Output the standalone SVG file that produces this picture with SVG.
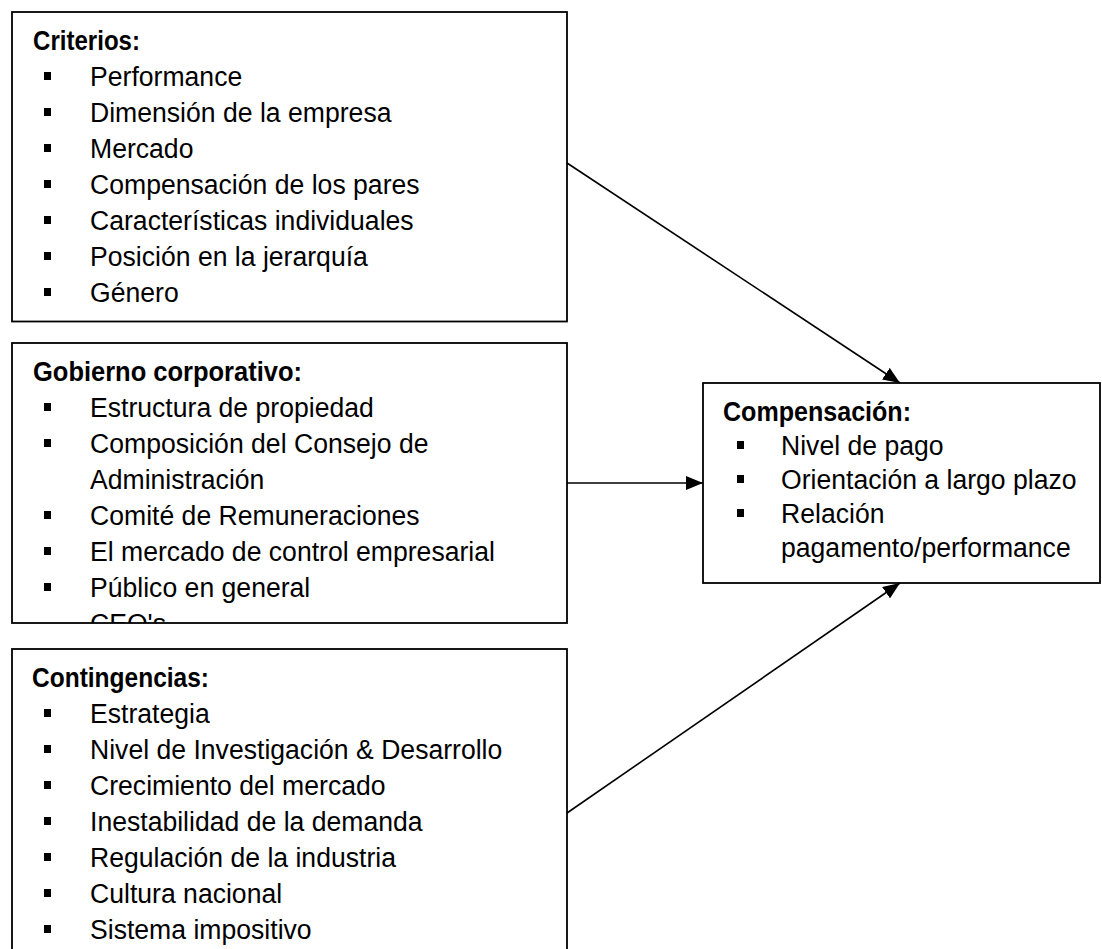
<svg xmlns="http://www.w3.org/2000/svg" width="1102" height="949" viewBox="0 0 1102 949">
<style>
.box{fill:#fff;stroke:#000;stroke-width:1.8}
.h{font-family:"Liberation Sans",Arial,sans-serif;font-weight:bold;font-size:28px;fill:#000}
.t{font-family:"Liberation Sans",Arial,sans-serif;font-size:28px;fill:#000}
.b{fill:#000}
.c{stroke:#000;stroke-width:1.6;fill:none}
</style>
<defs>
<marker id="arr" markerUnits="userSpaceOnUse" markerWidth="18" markerHeight="14" refX="17" refY="7" orient="auto">
<path d="M0,0 L17,7 L0,14 Z" fill="#000"/>
</marker>
<clipPath id="clip2"><rect x="12" y="343" width="555" height="280"/></clipPath>
</defs>
<rect width="1102" height="949" fill="#fff"/>

<g id="criterios">
<rect class="box" x="12" y="12" width="555" height="309.5"/>
<text class="h" x="33" y="50" textLength="107" lengthAdjust="spacingAndGlyphs">Criterios:</text>
<rect class="b" x="44" y="72" width="7" height="8"/><text class="t" transform="matrix(0.95 0 0 1 90 86)">Performance</text>
<rect class="b" x="44" y="108" width="7" height="8"/><text class="t" transform="matrix(0.95 0 0 1 90 122)">Dimensión de la empresa</text>
<rect class="b" x="44" y="144" width="7" height="8"/><text class="t" transform="matrix(0.95 0 0 1 90 158)">Mercado</text>
<rect class="b" x="44" y="180" width="7" height="8"/><text class="t" transform="matrix(0.95 0 0 1 90 194)">Compensación de los pares</text>
<rect class="b" x="44" y="216" width="7" height="8"/><text class="t" transform="matrix(0.95 0 0 1 90 230)">Características individuales</text>
<rect class="b" x="44" y="252" width="7" height="8"/><text class="t" transform="matrix(0.95 0 0 1 90 266)">Posición en la jerarquía</text>
<rect class="b" x="44" y="288" width="7" height="8"/><text class="t" transform="matrix(0.95 0 0 1 90 302)">Género</text>
</g>

<g id="gobierno">
<rect class="box" x="12" y="343" width="555" height="280"/>
<g clip-path="url(#clip2)">
<text class="h" x="33" y="381" textLength="269" lengthAdjust="spacingAndGlyphs">Gobierno corporativo:</text>
<rect class="b" x="44" y="403" width="7" height="8"/><text class="t" transform="matrix(0.95 0 0 1 90 417)">Estructura de propiedad</text>
<rect class="b" x="44" y="439" width="7" height="8"/><text class="t" transform="matrix(0.95 0 0 1 90 453)">Composición del Consejo de</text>
<text class="t" transform="matrix(0.95 0 0 1 90 489)">Administración</text>
<rect class="b" x="44" y="511" width="7" height="8"/><text class="t" transform="matrix(0.95 0 0 1 90 525)">Comité de Remuneraciones</text>
<rect class="b" x="44" y="547" width="7" height="8"/><text class="t" transform="matrix(0.95 0 0 1 90 561)">El mercado de control empresarial</text>
<rect class="b" x="44" y="583" width="7" height="8"/><text class="t" transform="matrix(0.95 0 0 1 90 597)">Público en general</text>
<text class="t" transform="matrix(0.95 0 0 1 90 633)">CEO's</text>
</g>
</g>

<g id="contingencias">
<rect class="box" x="12" y="649" width="555" height="320"/>
<text class="h" x="32" y="687" textLength="177" lengthAdjust="spacingAndGlyphs">Contingencias:</text>
<rect class="b" x="44" y="709" width="7" height="8"/><text class="t" transform="matrix(0.95 0 0 1 90 723)">Estrategia</text>
<rect class="b" x="44" y="745" width="7" height="8"/><text class="t" transform="matrix(0.95 0 0 1 90 759)">Nivel de Investigación &amp; Desarrollo</text>
<rect class="b" x="44" y="781" width="7" height="8"/><text class="t" transform="matrix(0.95 0 0 1 90 795)">Crecimiento del mercado</text>
<rect class="b" x="44" y="817" width="7" height="8"/><text class="t" transform="matrix(0.95 0 0 1 90 831)">Inestabilidad de la demanda</text>
<rect class="b" x="44" y="853" width="7" height="8"/><text class="t" transform="matrix(0.95 0 0 1 90 867)">Regulación de la industria</text>
<rect class="b" x="44" y="889" width="7" height="8"/><text class="t" transform="matrix(0.95 0 0 1 90 903)">Cultura nacional</text>
<rect class="b" x="44" y="925" width="7" height="8"/><text class="t" transform="matrix(0.95 0 0 1 90 939)">Sistema impositivo</text>
</g>

<g id="compensacion">
<rect class="box" x="703" y="383" width="397" height="200"/>
<text class="h" x="723" y="421" textLength="188" lengthAdjust="spacingAndGlyphs">Compensación:</text>
<rect class="b" x="737" y="441" width="7" height="8"/><text class="t" transform="matrix(0.95 0 0 1 781 455)">Nivel de pago</text>
<rect class="b" x="737" y="475" width="7" height="8"/><text class="t" transform="matrix(0.95 0 0 1 781 489)">Orientación a largo plazo</text>
<rect class="b" x="737" y="509" width="7" height="8"/><text class="t" transform="matrix(0.95 0 0 1 781 523)">Relación</text>
<text class="t" transform="matrix(0.95 0 0 1 781 557)">pagamento/performance</text>
</g>

<g id="connectors">
<line class="c" x1="567" y1="163" x2="900" y2="383" marker-end="url(#arr)"/>
<line class="c" x1="567" y1="483" x2="703" y2="483" marker-end="url(#arr)"/>
<line class="c" x1="567" y1="813" x2="900" y2="583" marker-end="url(#arr)"/>
</g>
</svg>
